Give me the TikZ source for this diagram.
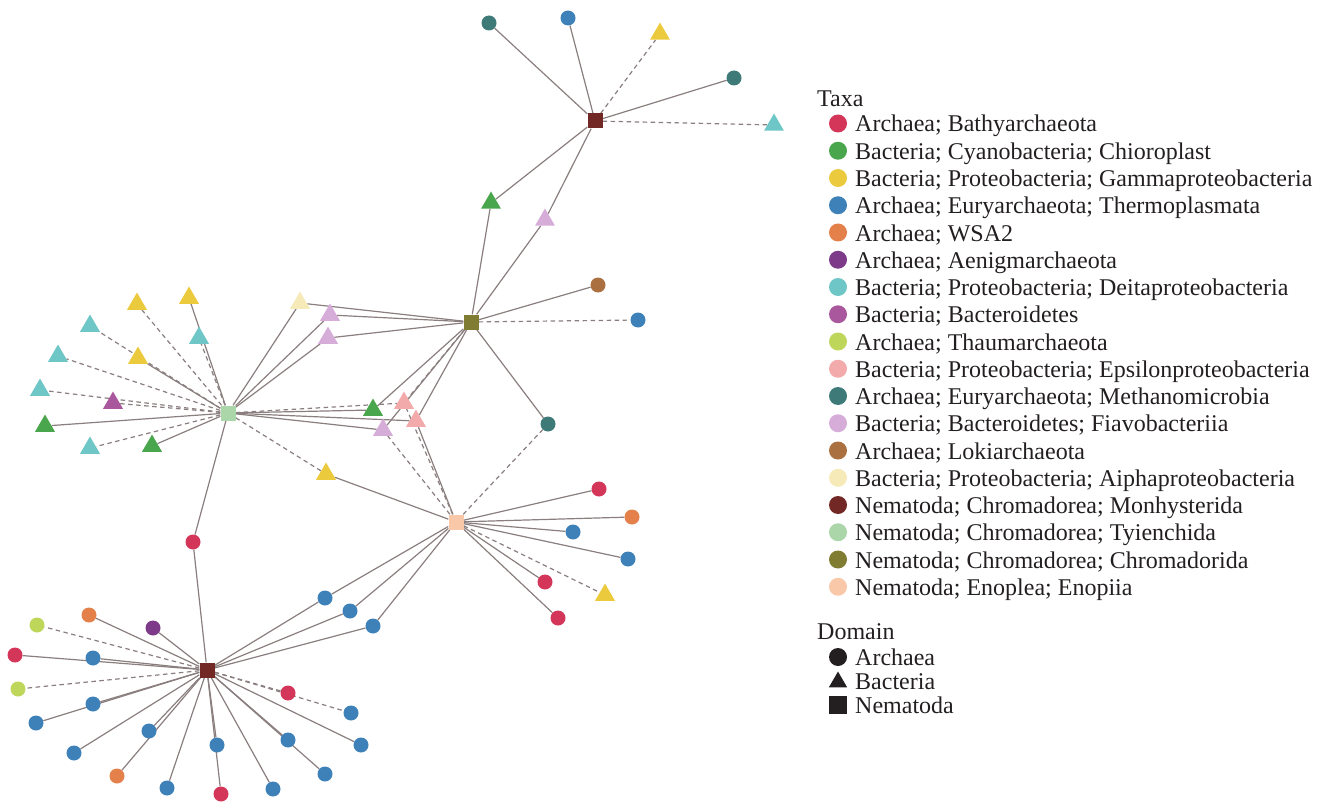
\documentclass[tikz,border=0pt]{standalone}
\usepackage{fontspec}
\setmainfont{Liberation Serif}
\usetikzlibrary{shapes.geometric}
\pgfdeclarelayer{edges}
\pgfsetlayers{edges,main}
\definecolor{bathy}{RGB}{212,54,90}
\definecolor{cyano}{RGB}{74,166,76}
\definecolor{gamma}{RGB}{236,202,62}
\definecolor{thermo}{RGB}{62,128,184}
\definecolor{wsa}{RGB}{228,128,74}
\definecolor{aenig}{RGB}{124,58,136}
\definecolor{delta}{RGB}{110,198,198}
\definecolor{bactero}{RGB}{170,88,158}
\definecolor{thaum}{RGB}{190,214,90}
\definecolor{epsil}{RGB}{242,170,170}
\definecolor{methano}{RGB}{62,122,120}
\definecolor{flavo}{RGB}{214,172,216}
\definecolor{loki}{RGB}{170,112,64}
\definecolor{alpha}{RGB}{246,234,184}
\definecolor{monhy}{RGB}{114,40,36}
\definecolor{tylen}{RGB}{170,214,170}
\definecolor{chroma}{RGB}{128,124,50}
\definecolor{enopl}{RGB}{248,200,168}
\definecolor{edgec}{RGB}{138,126,126}
\definecolor{ink}{RGB}{35,31,32}
\tikzset{
  circ/.style={circle,fill=#1,minimum size=15pt,inner sep=0pt},
  tri/.style={regular polygon,regular polygon sides=3,fill=#1,minimum size=23pt,inner sep=0pt},
  sq/.style={rectangle,fill=#1,minimum size=15pt,inner sep=0pt},
  lk/.style={draw=edgec,line width=1.2pt},
  dl/.style={draw=edgec,line width=1.2pt,dash pattern=on 4.5pt off 3.5pt},
  lgtxt/.style={anchor=base west,inner sep=0pt,text=ink,font=\fontsize{24}{28}\selectfont},
}
\begin{document}
\begin{tikzpicture}[x=1pt,y=-1pt]
\useasboundingbox (0,0) rectangle (1328,805);
% hubs
\node[sq=monhy] (mA) at (595,121) {};
\node[sq=monhy] (mB) at (207,670) {};
\node[sq=tylen] (ty) at (228,413) {};
\node[sq=chroma] (ch) at (471,322) {};
\node[sq=enopl] (en) at (456,522) {};
% top cluster
\node[circ=methano] (t1) at (489,23) {};
\node[circ=thermo] (t2) at (568,18) {};
\node[tri=gamma] (t3) at (660,34) {};
\node[circ=methano] (t4) at (734,78) {};
\node[tri=delta] (t5) at (774,125) {};
\node[tri=cyano] (g1) at (491,203) {};
\node[tri=flavo] (l1) at (545,220) {};
% chromadorida cluster
\node[circ=loki] (c1) at (598,285) {};
\node[circ=thermo] (c2) at (638,320) {};
\node[circ=methano] (c3) at (548,424) {};
\node[tri=alpha] (al) at (300,303) {};
\node[tri=flavo] (l2) at (330,315) {};
\node[tri=flavo] (l3) at (328,338) {};
\node[tri=cyano] (g2) at (373,410) {};
\node[tri=epsil] (p1) at (404,403) {};
\node[tri=epsil] (p2) at (416,421) {};
\node[tri=flavo] (l4) at (383,430) {};
% tylenchida cluster
\node[tri=gamma] (y1) at (189,298) {};
\node[tri=delta] (d1) at (199,338) {};
\node[tri=gamma] (y2) at (137,304) {};
\node[tri=delta] (d2) at (90,326) {};
\node[tri=gamma] (y3) at (138,358) {};
\node[tri=delta] (d3) at (58,356) {};
\node[tri=delta] (d4) at (40,390) {};
\node[tri=bactero] (bm) at (113,403) {};
\node[tri=cyano] (g3) at (45,426) {};
\node[tri=delta] (d5) at (90,448) {};
\node[tri=cyano] (g4) at (152,446) {};
\node[tri=gamma] (y4) at (326,474) {};
\node[circ=bathy] (r1) at (193,542) {};
% enoplida cluster
\node[circ=bathy] (e1) at (599,489) {};
\node[circ=wsa] (e2) at (632,517) {};
\node[circ=thermo] (e3) at (573,532) {};
\node[circ=thermo] (e4) at (628,559) {};
\node[circ=bathy] (e5) at (545,582) {};
\node[tri=gamma] (e6) at (605,595) {};
\node[circ=bathy] (e7) at (558,618) {};
\node[circ=thermo] (b1) at (325,598) {};
\node[circ=thermo] (b2) at (350,611) {};
\node[circ=thermo] (b3) at (373,626) {};
% monhysterida bottom cluster
\node[circ=wsa] (n1) at (89,615) {};
\node[circ=thaum] (n2) at (37,625) {};
\node[circ=aenig] (n3) at (153,628) {};
\node[circ=bathy] (n4) at (15,655) {};
\node[circ=thermo] (n5) at (93,658) {};
\node[circ=thaum] (n6) at (18,689) {};
\node[circ=thermo] (n7) at (93,704) {};
\node[circ=thermo] (n8) at (36,723) {};
\node[circ=thermo] (n9) at (74,753) {};
\node[circ=thermo] (n10) at (149,731) {};
\node[circ=wsa] (n11) at (117,776) {};
\node[circ=thermo] (n12) at (167,788) {};
\node[circ=thermo] (n13) at (217,745) {};
\node[circ=bathy] (n14) at (221,794) {};
\node[circ=thermo] (n15) at (273,789) {};
\node[circ=thermo] (n16) at (288,740) {};
\node[circ=thermo] (n17) at (325,774) {};
\node[circ=thermo] (n18) at (361,745) {};
\node[circ=bathy] (n19) at (288,693) {};
\node[circ=thermo] (n20) at (351,713) {};
% edges
\begin{pgfonlayer}{edges}
\foreach \a in {t1,t2,t4,g1,l1} \draw[lk] (mA) -- (\a);
\foreach \a in {t3,t5} \draw[dl] (mA) -- (\a);
\foreach \a in {g1,l1,c1,c3,al,l2,l3,g2,p2,l4} \draw[lk] (ch) -- (\a);
\foreach \a in {c2,p1} \draw[dl] (ch) -- (\a);
\foreach \a in {y1,y3,g3,g4,r1,al,l2,l3,g2,p2,l4} \draw[lk] (ty) -- (\a);
\foreach \a in {d1,y2,d2,d3,d4,bm,d5,y4,p1} \draw[dl] (ty) -- (\a);
\foreach \a in {e1,e2,e3,e4,e5,e7,b1,b2,b3,y4,p2} \draw[lk] (en) -- (\a);
\foreach \a in {e6,c3,l4,p1} \draw[dl] (en) -- (\a);
\foreach \a in {r1,n1,n3,n4,n5,n7,n8,n9,n10,n11,n12,n13,n14,n15,n16,n17,n18,b1,b2,b3} \draw[lk] (mB) -- (\a);
\foreach \a in {n2,n6,n19,n20} \draw[dl] (mB) -- (\a);
\end{pgfonlayer}
% legend
\node[lgtxt] (taxa) at (817,106.5) {Taxa};
\foreach \c/\t [count=\i from 0] in {
  bathy/{Archaea; Bathyarchaeota},
  cyano/{Bacteria; Cyanobacteria; Chioroplast},
  gamma/{Bacteria; Proteobacteria; Gammaproteobacteria},
  thermo/{Archaea; Euryarchaeota; Thermoplasmata},
  wsa/{Archaea; WSA2},
  aenig/{Archaea; Aenigmarchaeota},
  delta/{Bacteria; Proteobacteria; Deitaproteobacteria},
  bactero/{Bacteria; Bacteroidetes},
  thaum/{Archaea; Thaumarchaeota},
  epsil/{Bacteria; Proteobacteria; Epsilonproteobacteria},
  methano/{Archaea; Euryarchaeota; Methanomicrobia},
  flavo/{Bacteria; Bacteroidetes; Fiavobacteriia},
  loki/{Archaea; Lokiarchaeota},
  alpha/{Bacteria; Proteobacteria; Aiphaproteobacteria},
  monhy/{Nematoda; Chromadorea; Monhysterida},
  tylen/{Nematoda; Chromadorea; Tyienchida},
  chroma/{Nematoda; Chromadorea; Chromadorida},
  enopl/{Nematoda; Enoplea; Enopiia}} {
  \pgfmathsetmacro\yy{123.5+27.25*\i}
  \node[circle,fill=\c,minimum size=18pt,inner sep=0pt] (lm\i) at (838,\yy) {};
  \node[lgtxt] (lt\i) at (855,\yy+8.5) {\t};
}
\node[lgtxt] (dom) at (817,639.5) {Domain};
\node[circle,fill=ink,minimum size=18pt,inner sep=0pt] (dm1) at (838,657) {};
\node[lgtxt] (dt1) at (855,665.5) {Archaea};
\node[regular polygon,regular polygon sides=3,fill=ink,minimum size=21pt,inner sep=0pt] (dm2) at (838,682) {};
\node[lgtxt] (dt2) at (855,689.5) {Bacteria};
\node[rectangle,fill=ink,minimum size=18pt,inner sep=0pt] (dm3) at (838,705) {};
\node[lgtxt] (dt3) at (855,713.5) {Nematoda};
\end{tikzpicture}
\end{document}
